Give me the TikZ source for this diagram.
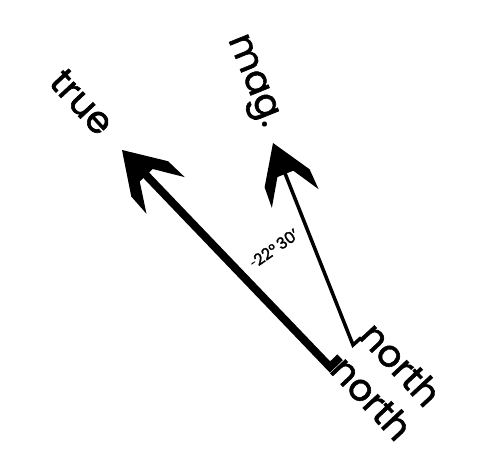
\documentclass[tikz,border=0pt]{standalone}
\usepackage{fontspec}
\setmainfont{Poppins}[FakeBold=1.6]
\usetikzlibrary{arrows.meta,calc}
% barbed arrow head: tip, direction, scale
\newcommand{\barbhead}[3]{%
  \begin{scope}[shift={(#1)},rotate=#2,scale=#3]
    \fill (0,0) -- (-40,25.5) -- (-63,26.5) -- (-35,9) -- (-35,-9)
      -- (-63,-26.5) -- (-40,-25.5) -- cycle;
  \end{scope}}

\begin{document}
\begin{tikzpicture}[x=1pt,y=1pt,
    word/.style={font=\fontsize{37}{37}\selectfont,inner sep=0pt},
    small/.style={font=\fontsize{16}{16}\selectfont,inner sep=0pt}]
  \useasboundingbox (0,0) rectangle (487,452);
  \coordinate (truetip) at (122,302);
  \coordinate (truetail) at (330,85);
  \coordinate (magtip) at (273,309);
  \coordinate (magtail) at (353,107);
  % true north
  \draw[line width=8pt,line join=miter] ($(truetip)!30pt!(truetail)$) -- (truetail) -- ++(44:14);
  \barbhead{truetip}{133.8}{1}
  \node[word,rotate=-47] (truelbl) at (82,350) {true};
  \node[word,rotate=-47] (truenorth) at (372,54) {north};
  % magnetic north
  \draw[line width=3.5pt,line join=miter] ($(magtip)!30pt!(magtail)$) -- (magtail) -- ++(42:11);
  \barbhead{magtip}{111.8}{0.95}
  \node[word,rotate=-68] (maglbl) at (251,370) {mag.};
  \node[word,rotate=-47] (magnorth) at (401,88) {north};
  % declination
  \node[small,rotate=35] (ang) at (276,205) {22°\,30'};
  \draw[line width=0.8pt,-{Stealth[length=2.5pt]}] (ang.west) -- ++(215:5);
\end{tikzpicture}
\end{document}
